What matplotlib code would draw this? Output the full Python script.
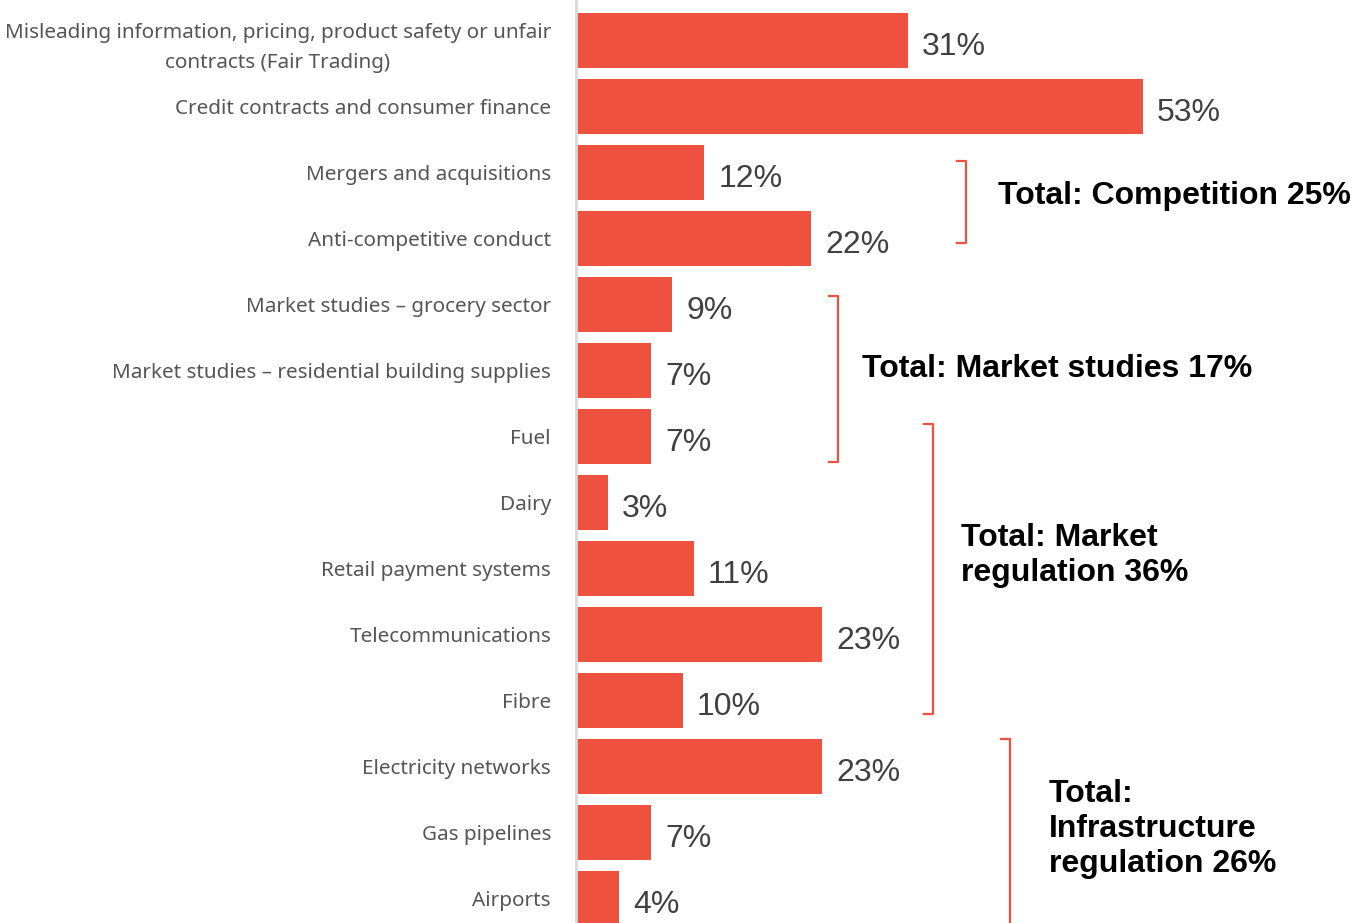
import numpy as np
import matplotlib
matplotlib.use('Agg')
import matplotlib.pyplot as plt

# share of responses per work area (%)
categories = [
    'Misleading information, pricing, product safety or unfair\ncontracts (Fair Trading)',
    'Credit contracts and consumer finance',
    'Mergers and acquisitions',
    'Anti-competitive conduct',
    'Market studies \u2013 grocery sector',
    'Market studies \u2013 residential building supplies',
    'Fuel',
    'Dairy',
    'Retail payment systems',
    'Telecommunications',
    'Fibre',
    'Electricity networks',
    'Gas pipelines',
    'Airports',
]
values = [31, 53, 12, 22, 9, 7, 7, 3, 11, 23, 10, 23, 7, 4]

# group totals: label, first row, last row
group_labels = ['Total: Competition 25%',
                'Total: Market studies 17%',
                'Total: Market\nregulation 36%',
                'Total:\nInfrastructure\nregulation 26%']
group_rows = [(2, 3), (4, 6), (6, 10), (11, 14)]

RED = '#ef5140'
W, H = 1367, 923
fig = plt.figure(figsize=(W / 100, H / 100), dpi=100)
plt.rcParams['font.family'] = ['Liberation Sans', 'DejaVu Sans']

x0 = 576
ax = fig.add_axes([x0 / W, 0, (W - x0) / W, 1])
scale = (1143 - x0) / 53.0   # px per percent
ax.set_xlim(0, (W - x0) / scale)
y_top = -40.5 / 66
y_bot = 13 + (H - 898.5) / 66
ax.set_ylim(y_bot, y_top)

ypos = np.arange(len(values))
ax.barh(ypos, values, height=0.82, color=RED, zorder=2)

for y, v in zip(ypos, values):
    ax.text(v + 14 / scale, y + 0.1, f'{v}%', va='center', ha='left',
            fontsize=23, color='#404040')

ax.set_yticks(ypos)
ax.set_yticklabels(categories, fontsize=14.9, color='#555555', family='Noto Sans')
first = ax.get_yticklabels()[0]
first.set_multialignment('center')
first.set_linespacing(1.65)
ax.tick_params(axis='y', length=0, pad=18)
ax.set_xticks([])
for s in ['top', 'right', 'bottom']:
    ax.spines[s].set_visible(False)
ax.spines['left'].set_color('#d9d9d9')
ax.spines['left'].set_linewidth(2)

# brackets (x in px, top/bottom offsets from the rows)
bracket_x = [966, 838, 933, 1010]
bracket_off = [(-0.17, 0.07), (-0.13, 0.39), (-0.19, 0.2), (-0.42, 0.6)]
text_x = [998, 862, 961, 1049]
text_y = [2.36, 4.97, 7.8, 11.95]
hook = 9 / scale
for (r0, r1), bx, (o0, o1), tx, ty, lab in zip(group_rows, bracket_x, bracket_off,
                                               text_x, text_y, group_labels):
    xb = (bx - x0) / scale
    ya, yb = r0 + o0, r1 + o1
    ax.plot([xb - hook, xb, xb, xb - hook], [ya, ya, yb, yb], color=RED,
            lw=1.6, solid_joinstyle='round', clip_on=False)
    ax.text((tx - x0) / scale, ty, lab, ha='left', va='center', fontsize=23,
            fontweight='bold', color='black', linespacing=1.22)

fig.savefig('out.png', dpi=100)
